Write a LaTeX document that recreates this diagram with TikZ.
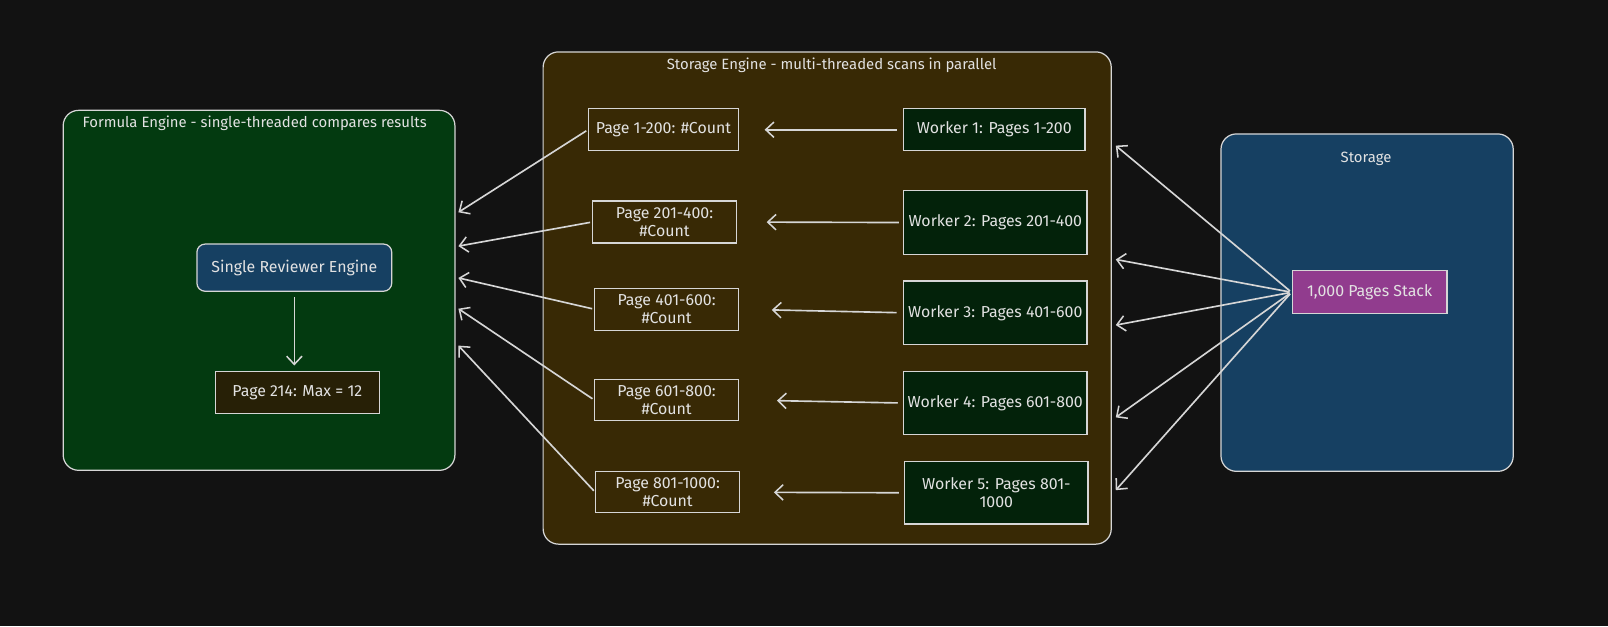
\documentclass[tikz,border=0pt]{standalone}
\usepackage{fontspec}
\setmainfont{Fira Sans}
\usetikzlibrary{arrows.meta}

\definecolor{canvas}{HTML}{121212}
\definecolor{edge}{HTML}{D6D6D6}
\definecolor{ink}{HTML}{E2E2E2}
\definecolor{fegreen}{HTML}{033A10}
\definecolor{sebrown}{HTML}{382905}
\definecolor{stblue}{HTML}{164062}
\definecolor{resdark}{HTML}{272006}
\definecolor{wkgreen}{HTML}{03220A}
\definecolor{stackpink}{HTML}{913C8E}

\tikzset{
  box/.style={draw=edge, line width=1.2pt, text=ink, align=center, inner sep=2pt,
    font=\fontsize{15.5}{18}\selectfont},
  group/.style={box, rounded corners=15pt, anchor=north west},
  title/.style={text=ink, font=\fontsize{14.5}{17}\selectfont},
  pagebox/.style={box, minimum width=140pt, minimum height=41pt},
  workerbox/.style={box, fill=wkgreen, minimum width=179pt, minimum height=62pt},
  arr/.style={draw=edge, line width=1.6pt, -{Straight Barb[length=8pt,width=15pt,line width=1.5pt]}}
}

\begin{document}
\begin{tikzpicture}[x=1pt,y=-1pt]
  \useasboundingbox[fill=canvas] (0,0) rectangle (1568,610.5);

  % formula engine
  \node [group, fill=fegreen, minimum width=382pt, minimum height=351pt] (fe) at (61,107) {};
  \node [title, anchor=west] (fetitle) at (77,120) {Formula Engine - single-threaded compares results};
  \node [box, fill=stblue, rounded corners=8pt, minimum width=190pt, minimum height=46pt] (rev) at (287,261) {Single Reviewer Engine};
  \node [box, fill=resdark, minimum width=160pt, minimum height=41pt] (res) at (290,382.5) {Page 214: Max = 12};
  \draw [arr, shorten <=5pt, shorten >=5pt] (rev.south) -- (rev.south |- res.north);

  % storage engine
  \node [group, fill=sebrown, minimum width=554pt, minimum height=480pt] (se) at (529,50) {};
  \node [title] (setitle) at (811,64) {Storage Engine - multi-threaded scans in parallel};

  \node [pagebox, minimum width=146pt] (p1) at (647,126.5) {Page 1-200: \#Count};
  \node [pagebox] (p2) at (648,216.5) {Page 201-400:\\\#Count};
  \node [pagebox] (p3) at (650,301.5) {Page 401-600:\\\#Count};
  \node [pagebox, minimum height=40pt] (p4) at (650,390) {Page 601-800:\\\#Count};
  \node [pagebox, minimum height=40pt] (p5) at (651,480) {Page 801-1000:\\\#Count};

  \node [workerbox, minimum width=177pt, minimum height=41pt] (w1) at (969.5,126.5) {Worker 1: Pages 1-200};
  \node [workerbox] (w2) at (970.5,217) {Worker 2: Pages 201-400};
  \node [workerbox] (w3) at (970.5,305) {Worker 3: Pages 401-600};
  \node [workerbox] (w4) at (970.5,393) {Worker 4: Pages 601-800};
  \node [workerbox, minimum height=61pt] (w5) at (971.5,480.5) {Worker 5: Pages 801-\\1000};

  % storage
  \node [group, fill=stblue, minimum width=285pt, minimum height=329pt] (st) at (1190,130) {};
  \node [title] (sttitle) at (1332,155) {Storage};
  \node [box, fill=stackpink, minimum width=151pt, minimum height=42pt] (stack) at (1335.5,285) {1,000 Pages Stack};

  % workers to partial counts
  \draw [arr, shorten <=6pt, shorten >=25pt] (w1.west) -- (p1.east);
  \draw [arr, shorten <=4pt, shorten >=29pt] (w2.west) -- (p2.east);
  \draw [arr, shorten <=6pt, shorten >=32pt] (w3.west) -- (p3.east);
  \draw [arr, shorten <=5pt, shorten >=37pt] (w4.west) -- (p4.east);
  \draw [arr, shorten <=5pt, shorten >=33pt] (w5.west) -- (p5.east);

  % partial counts to formula engine
  \coordinate (fe1) at (447,207);
  \coordinate (fe2) at (447,240);
  \coordinate (fe3) at (447,271);
  \coordinate (fe4) at (447,301);
  \coordinate (fe5) at (447,337);
  \draw [arr, shorten <=2pt] (p1.west) -- (fe1);
  \draw [arr, shorten <=2pt] (p2.west) -- (fe2);
  \draw [arr, shorten <=2pt] (p3.west) -- (fe3);
  \draw [arr, shorten <=2pt] (p4.west) -- (fe4);
  \draw [arr, shorten <=2pt] (p5.west) -- (fe5);

  % stack to storage engine
  \coordinate (se1) at (1088,142);
  \coordinate (se2) at (1088,253);
  \coordinate (se3) at (1088,317);
  \coordinate (se4) at (1088,407);
  \coordinate (se5) at (1088,478);
  \foreach \i in {1,...,5}
    \draw [arr, shorten <=2pt] (stack.west) -- (se\i);
\end{tikzpicture}
\end{document}
